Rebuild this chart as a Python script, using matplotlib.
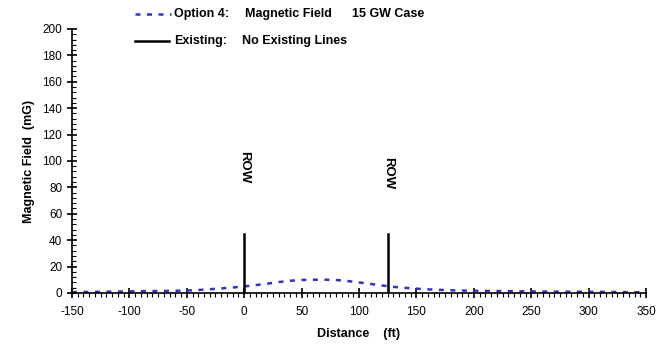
import numpy as np
import matplotlib
matplotlib.use('Agg')
import matplotlib.pyplot as plt
from matplotlib.ticker import MultipleLocator

plt.rcParams['font.family'] = ['Liberation Sans', 'DejaVu Sans']
plt.rcParams['axes.unicode_minus'] = False

# --- data ---
distance = [-150, -140, -130, -120, -110, -100, -90, -80, -70, -60, -50, -40, -30, -20, -10,
            0, 10, 20, 30, 40, 50, 60, 70, 80, 90, 100, 110, 120, 125, 130, 140, 150,
            160, 170, 180, 190, 200, 210, 220, 230, 240, 250, 260, 270, 280, 290, 300,
            310, 320, 330, 340, 350]
field = [0.6, 0.7, 0.8, 0.9, 1.0, 1.2, 1.3, 1.4, 1.5, 1.6, 1.8, 2.2, 2.8, 3.4, 4.1,
         4.9, 5.9, 7.0, 8.2, 9.2, 9.8, 10.0, 10.0, 9.8, 9.0, 7.9, 6.8, 5.6, 5.1, 4.6, 3.8, 3.2,
         2.7, 2.3, 2.0, 1.8, 1.6, 1.5, 1.4, 1.3, 1.2, 1.1, 1.0, 1.0, 0.9, 0.9, 0.8,
         0.8, 0.7, 0.6, 0.5, 0.4]
row_edges = [0, 125]
row_height = 45
row_label_y = [95, 91]

fs = 9

fig = plt.figure(figsize=(6.6, 3.45), dpi=100)
ax = fig.add_axes([0.109, 0.151, 0.870, 0.765])

ax.plot(distance, field, color='#3232c8', lw=1.8, dashes=(2.0, 2.6))
for x in row_edges:
    ax.plot([x, x], [0, row_height], color='black', lw=1.8)
for x, y in zip(row_edges, row_label_y):
    ax.text(x, y, 'ROW', rotation=-90, ha='center', va='center',
            fontsize=9.5, fontweight='bold')

ax.set_xlim(-150, 350)
ax.set_ylim(0, 200)
ax.xaxis.set_major_locator(MultipleLocator(50))
ax.xaxis.set_minor_locator(MultipleLocator(5))
ax.yaxis.set_major_locator(MultipleLocator(20))
ax.yaxis.set_minor_locator(MultipleLocator(4))
ax.tick_params(which='major', direction='inout', length=7, width=1.2, labelsize=8.5)
ax.tick_params(axis='x', which='major', pad=6)
ax.tick_params(axis='x', which='minor', direction='out', length=3, width=0.8)
ax.tick_params(axis='y', which='minor', direction='in', length=3, width=0.8)

for s in ['top', 'right']:
    ax.spines[s].set_visible(False)
for s in ['left', 'bottom']:
    ax.spines[s].set_linewidth(1.2)

ax.set_xlabel('Distance    (ft)', fontsize=fs, fontweight='bold', labelpad=7)
ax.set_ylabel('Magnetic Field  (mG)', fontsize=fs, fontweight='bold', labelpad=5)

# legend-like header
fig.add_artist(plt.Line2D([135 / 660, 171 / 660], [1 - 14 / 345] * 2, color='#3232c8',
                          lw=1.8, dashes=(2.0, 2.6)))
fig.add_artist(plt.Line2D([135 / 660, 169 / 660], [1 - 41 / 345] * 2, color='black', lw=1.8))
fig.text(174 / 660, 1 - 14 / 345, 'Option 4:', fontsize=fs, fontweight='bold', va='center')
fig.text(245 / 660, 1 - 14 / 345, 'Magnetic Field', fontsize=fs, fontweight='bold', va='center')
fig.text(352 / 660, 1 - 14 / 345, '15 GW Case', fontsize=fs, fontweight='bold', va='center')
fig.text(174 / 660, 1 - 41 / 345, 'Existing:', fontsize=fs, fontweight='bold', va='center')
fig.text(242 / 660, 1 - 41 / 345, 'No Existing Lines', fontsize=fs, fontweight='bold', va='center')

fig.savefig('out.png', dpi=100)
